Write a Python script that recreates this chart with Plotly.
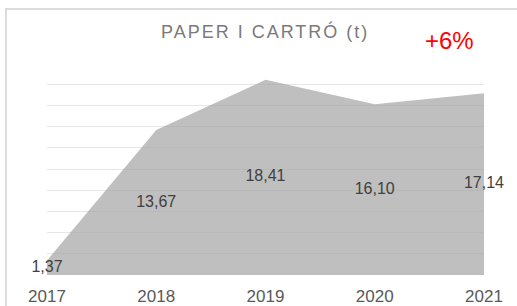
import plotly.graph_objects as go

years = [2017, 2018, 2019, 2020, 2021]
values = [1.37, 13.67, 18.41, 16.10, 17.14]
labels = ["1,37", "13,67", "18,41", "16,10", "17,14"]
title_text = "PAPER I CARTRÓ (t)"
change_text = "+6%"

FONT = "Liberation Sans, Arial, sans-serif"

fig = go.Figure()
fig.add_trace(go.Scatter(
    x=years, y=values, mode="lines", line=dict(width=0, color="rgba(0,0,0,0)"),
    fill="tozeroy", fillcolor="rgba(166,166,166,0.72)", hoverinfo="skip",
    showlegend=False,
))
fig.add_trace(go.Scatter(
    x=years, y=[v / 2 for v in values], mode="text", text=labels,
    textposition="middle center", cliponaxis=False,
    textfont=dict(family=FONT, size=16, color="#404040"), showlegend=False,
))

fig.update_layout(
    width=517, height=306,
    margin=dict(l=47, r=33, t=63, b=31, autoexpand=False),
    paper_bgcolor="white", plot_bgcolor="white",
    xaxis=dict(range=[2017, 2021], tickvals=years, ticktext=[str(y) for y in years],
               showgrid=False, zeroline=False, showline=False, ticks="",
               ticklabelstandoff=9, automargin=False,
               tickfont=dict(family=FONT, size=17, color="#595959")),
    yaxis=dict(range=[0, 20], dtick=2, showgrid=True, gridcolor="#e6e6e6", gridwidth=1,
               zeroline=False, showline=False, showticklabels=False, ticks="",
               automargin=False),
    annotations=[
        dict(text='<span style="letter-spacing:2px">' + title_text + '</span>',
             xref="paper", yref="paper", x=(265 - 47) / 437, y=(275 - 31) / 212,
             xanchor="center", yanchor="middle", showarrow=False,
             font=dict(family=FONT, size=18, color="#7a7a7a")),
        dict(text=change_text, xref="paper", yref="paper",
             x=(449 - 47) / 437, y=(275 - 40) / 212,
             xanchor="center", yanchor="middle", showarrow=False,
             font=dict(family=FONT, size=24, color="#ff0000")),
    ],
    shapes=[
        dict(type="rect", xref="paper", yref="paper",
             x0=(6 - 47) / 437, y0=-0.3, x1=1.2, y1=(275 - 9) / 212,
             line=dict(color="#dcdcdc", width=2), fillcolor="rgba(0,0,0,0)", layer="below"),
    ],
)

fig.write_html("out.html", config={"displayModeBar": False},
               post_script="document.body.style.margin='0px';document.body.style.overflow='hidden';")
